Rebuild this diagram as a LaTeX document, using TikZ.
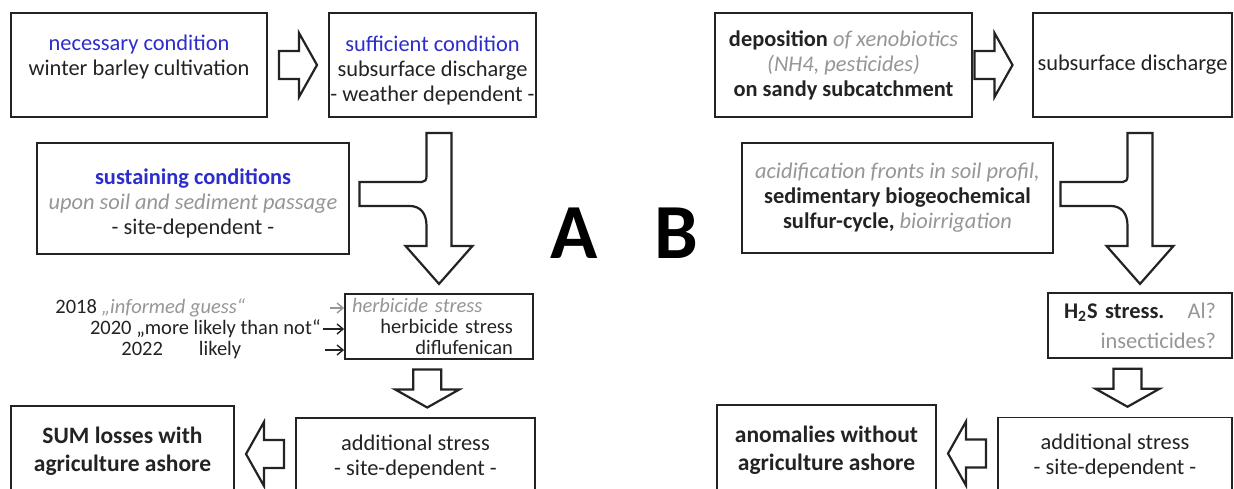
\documentclass[tikz,border=0pt]{standalone}
\usepackage{fontspec}
\setmainfont{Carlito}
\usetikzlibrary{arrows.meta,calc}
\definecolor{condBlue}{RGB}{45,45,205}
\definecolor{noteGray}{RGB}{150,150,150}
\definecolor{inkBlack}{RGB}{35,35,35}

\begin{document}
\begin{tikzpicture}[
  x=0.5pt, y=-0.5pt,
  box/.style={draw=inkBlack, line width=0.9pt, align=center, text=inkBlack,
              font=\fontsize{11.2}{12.5}\selectfont, inner sep=0pt},
  strongbox/.style={box, font=\fontsize{11.75}{14}\selectfont\bfseries},
  blkline/.style={draw=inkBlack, line width=1.1pt, fill=white, line join=miter},
  smallarrow/.style={-{Straight Barb[length=3pt,width=5pt]}, line width=0.7pt, inkBlack},
  note/.style={font=\fontsize{10.25}{10.5}\selectfont, text=inkBlack, inner sep=0pt},
  bigletter/.style={font=\fontsize{39}{40}\selectfont\bfseries, text=black, inner sep=0pt},
  blkarrow/.pic={\draw[blkline] (-19,-14) -- (1,-14) -- (1,-32) -- (19,0) -- (1,32) -- (1,14) -- (-19,14) -- cycle;},
  bentblk/.pic={\draw[blkline] (-12.5,15) -- (12.5,15) -- (12.5,128) -- (33.5,128) -- (0,166) -- (-33.5,128)
      -- (-12.5,128) -- (-12.5,108) .. controls (-12.5,96) and (-18,88) .. (-30,88) -- (-79.5,88)
      -- (-79.5,64) -- (-17,64) .. controls (-14,64) and (-12.5,62) .. (-12.5,58) -- cycle;}
]
\path[use as bounding box, fill=white] (0,0) rectangle (1234,488);

\node[box, minimum width=128pt, minimum height=52pt] (nec) at (139,65)
  {\rule{0pt}{14pt}{\color{condBlue}necessary condition}\\winter barley cultivation\\\strut};
\node[box, minimum width=103.5pt, minimum height=52pt] (suff) at (432.5,65)
  {\rule{0pt}{13pt}{\color{condBlue}sufficient condition}\\subsurface discharge\\- weather dependent -};
\node[box, minimum width=156pt, minimum height=55.5pt] (sust) at (193,198.5)
  {\rule{0pt}{13pt}{\bfseries\color{condBlue}sustaining conditions}\\{\itshape\color{noteGray}upon soil and sediment passage}\\- site-dependent -};
\node[box, font=\fontsize{10.25}{10.5}\selectfont, text width=87pt,
      minimum width=94pt, minimum height=32.5pt] (herb) at (439,326.5)
  {\makebox[87pt][l]{\itshape\color{noteGray}herbicide stress}\\\makebox[87pt][r]{herbicide stress\hspace{6.5pt}}\\\makebox[87pt][r]{diflufenican\hspace{6.5pt}}};
\node[box, minimum width=119.5pt, minimum height=39pt] (add) at (415.5,457)
  {additional stress\\- site-dependent -};
\node[strongbox, minimum width=111.5pt, minimum height=45pt] (sum) at (122.5,451)
  {SUM losses with\\agriculture ashore};

\node[note, anchor=west] (lbl18) at (55,308) {2018 {\itshape\color{noteGray}„informed guess“}};
\node[note, anchor=east] (lbl20) at (321,329) {2020 „more likely than not“};
\node[note, anchor=west] (lbl22) at (121,350) {2022\hspace{18pt}likely};
\coordinate (from18) at (330,308);
\coordinate (from22) at (325,350);
\draw[smallarrow, noteGray] (from18) -- (herb.west |- from18);
\draw[smallarrow] ([xshift=1pt]lbl20.east) -- (herb.west |- lbl20.east);
\draw[smallarrow] (from22) -- (herb.west |- from22);

\node[box, minimum width=128.5pt, minimum height=52pt] (dep) at (843.5,65)
  {\textbf{deposition} {\itshape\color{noteGray}of xenobiotics}\\{\itshape\color{noteGray}(NH4, pesticides)}\\\textbf{on sandy subcatchment}};
\node[box, minimum width=99.5pt, minimum height=52pt] (subR) at (1132.5,65)
  {subsurface discharge};
\node[box, minimum width=155.5pt, minimum height=55pt] (acid) at (897.5,198)
  {{\itshape\color{noteGray}acidification fronts in soil profil,}\\\textbf{sedimentary biogeochemical}\\\textbf{sulfur-cycle,} {\itshape\color{noteGray}bioirrigation}};
\node[box, align=right, text width=76pt, minimum width=92pt, minimum height=32.5pt,
      font=\fontsize{11.2}{15}\selectfont] (h2s) at (1140,325.5)
  {\textbf{H\textsubscript{2}S stress.}\hfill{\color{noteGray}Al?}\\{\color{noteGray}insecticides?}};
\node[box, minimum width=117pt, minimum height=39pt] (addR) at (1115,456.5)
  {additional stress\\- site-dependent -};
\node[strongbox, minimum width=109.5pt, minimum height=45.5pt] (anom) at (826.5,450.5)
  {anomalies without\\agriculture ashore};

\node[bigletter] (labA) at (574,233) {A};
\node[bigletter] (labB) at (676,233) {B};

\pic at ($(nec.east)!0.5!(suff.west)$) {blkarrow};
\pic at ([xshift=-4.5pt]$(dep.east)!0.5!(subR.west)$) {blkarrow};
\pic at (herb.north |- suff.south) {bentblk};
\pic at (h2s.north |- subR.south) {bentblk};
\pic[rotate=-90] at ($(herb.south)!0.5!(add.north)$) {blkarrow};
\pic[rotate=-90] at ($(h2s.south)!0.5!(addR.north)$) {blkarrow};
\pic[rotate=180] at ($(sum.east)!0.5!(add.west)$) {blkarrow};
\pic[rotate=180] at ($(anom.east)!0.5!(addR.west)$) {blkarrow};
\end{tikzpicture}
\end{document}
